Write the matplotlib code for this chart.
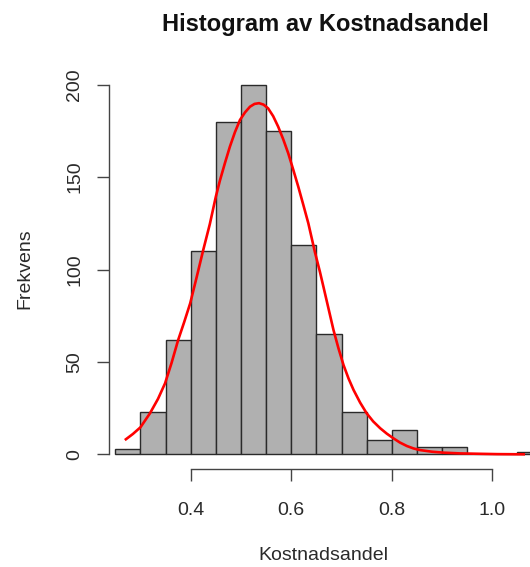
import numpy as np
import matplotlib
matplotlib.use("Agg")
import matplotlib.pyplot as plt

plt.rcParams['font.family'] = ['Liberation Sans', 'DejaVu Sans']

########################################################################
# data
bin_edges = [0.25, 0.30, 0.35, 0.40, 0.45, 0.50, 0.55, 0.60, 0.65,
             0.70, 0.75, 0.80, 0.85, 0.90, 0.95, 1.00, 1.05, 1.10]
counts = [3, 23, 62, 110, 180, 200, 175, 113, 65, 23, 8, 13, 4, 4, 0, 0, 1]

# fitted curve (red)
curve_x = [0.269, 0.285, 0.300, 0.319, 0.335, 0.349, 0.362, 0.375, 0.387,
           0.399, 0.412, 0.425, 0.438, 0.450, 0.458, 0.468, 0.478, 0.488,
           0.498, 0.508, 0.518, 0.527, 0.536, 0.545, 0.554, 0.564, 0.574,
           0.584, 0.594, 0.604, 0.614, 0.624, 0.634, 0.647, 0.657, 0.664,
           0.674, 0.684, 0.694, 0.704, 0.714, 0.724, 0.737, 0.750, 0.763,
           0.777, 0.790, 0.803, 0.816, 0.830, 0.843, 0.856, 0.880, 0.903,
           0.935, 0.970, 1.010, 1.065]
curve_y = [7.7, 11.0, 14.6, 22.2, 30.0, 38.4, 49.5, 61.8, 71.5,
           81.7, 96.0, 110.6, 124.5, 139.4, 148.0, 157.5, 166.5, 174.3,
           180.9, 185.0, 188.1, 189.6, 190.0, 189.2, 187.2, 183.0, 177.3,
           170.5, 162.9, 154.0, 144.8, 135.0, 125.0, 109.5, 98.8, 90.7,
           79.0, 67.3, 57.3, 48.3, 41.0, 34.8, 28.0, 22.2, 17.8,
           14.1, 11.2, 8.7, 6.4, 4.5, 3.2, 2.3, 1.4, 0.9,
           0.5, 0.3, 0.1, 0.0]

x_ticks = [0.4, 0.6, 0.8, 1.0]
y_ticks = [0, 50, 100, 150, 200]

########################################################################
W, H = 530, 567
fig = plt.figure(figsize=(W/100.0, H/100.0), dpi=100, facecolor='w')

# plot region in pixels (R style, right edge runs past the picture)
left, right, top, bottom = 109.3, 541.7, 69.9, 469.1
ax = fig.add_axes([left/W, 1-bottom/H, (right-left)/W, (bottom-top)/H])

widths = np.diff(bin_edges)
ax.bar(bin_edges[:-1], counts, width=widths, align='edge',
       color='#b0b0b0', edgecolor='#2a2a2a', linewidth=1.0, clip_on=False)
ax.plot(curve_x, curve_y, '-', color='#ff0000', linewidth=1.9,
        solid_capstyle='butt', clip_on=False)

ax.set_xlim(0.2381, 1.0982)
ax.set_ylim(-8, 208)

for s in ['top', 'right']:
    ax.spines[s].set_visible(False)
ax.spines['left'].set_bounds(0, 200)
ax.spines['bottom'].set_bounds(0.4, 1.0)
for s in ['left', 'bottom']:
    ax.spines[s].set_color('#444444')
    ax.spines[s].set_linewidth(1.0)

ax.set_xticks(x_ticks)
ax.set_xticklabels(['%.1f' % v for v in x_ticks])
ax.set_yticks(y_ticks)
ax.set_yticklabels([str(v) for v in y_ticks], rotation=90, va='center')
ax.tick_params(axis='both', length=8.8, width=1.0, color='#444444',
               labelsize=14, labelcolor='#2a2a2a')
ax.tick_params(axis='x', pad=15)
ax.tick_params(axis='y', pad=10)

fig.text(325/W, 1-25/H, 'Histogram av Kostnadsandel', ha='center', va='center',
         fontsize=17, fontweight='bold', color='#111111')
fig.text(323/W, 1-556/H, 'Kostnadsandel', ha='center', va='center',
         fontsize=14, color='#2a2a2a')
fig.text(24.5/W, 1-269/H, 'Frekvens', ha='center', va='center',
         rotation=90, fontsize=14, color='#2a2a2a')

fig.savefig('out.png', dpi=100)
